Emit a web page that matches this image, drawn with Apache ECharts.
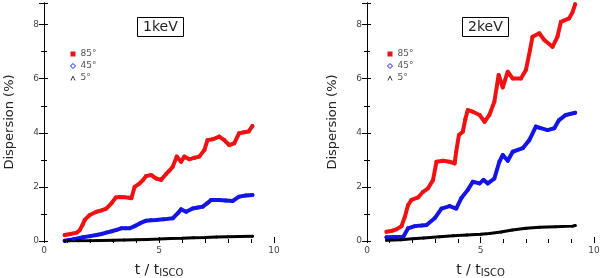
<!DOCTYPE html>
<html><head><meta charset="utf-8">
<script src="https://cdn.jsdelivr.net/npm/echarts@6/dist/echarts.min.js"></script>
<style>html,body{margin:0;padding:0;background:#fff}#c{width:600px;height:278px}</style>
</head><body><div id="c"></div>
<script>
// ---- data (t / t_ISCO, dispersion %) ----
const panelTitles = ['1keV', '2keV'];
const seriesNames = ['85°', '45°', '5°'];
const xTicks = [0, 5, 10];
const yTicks = [0, 2, 4, 6, 8];

const red1 = [[0.9,0.22],[1.15,0.26],[1.43,0.31],[1.56,0.41],[1.68,0.6],[1.77,0.78],[1.99,0.96],[2.28,1.08],[2.5,1.13],[2.71,1.2],[2.93,1.39],[3.12,1.61],[3.3,1.63],[3.5,1.62],[3.7,1.6],[3.8,1.58],[3.94,2.0],[4.16,2.13],[4.3,2.25],[4.44,2.4],[4.66,2.44],[4.88,2.31],[5.09,2.26],[5.31,2.48],[5.45,2.6],[5.6,2.75],[5.77,3.12],[5.96,2.93],[6.1,3.12],[6.32,3.02],[6.55,3.08],[6.75,3.12],[6.97,3.36],[7.11,3.73],[7.33,3.76],[7.62,3.86],[7.84,3.73],[8.05,3.55],[8.27,3.61],[8.48,3.98],[8.7,4.02],[8.9,4.05],[9.06,4.25]];
const blue1 = [[0.9,0.01],[1.3,0.07],[1.7,0.14],[2.0,0.18],[2.28,0.22],[2.5,0.26],[2.71,0.31],[2.95,0.36],[3.15,0.41],[3.36,0.47],[3.55,0.47],[3.73,0.47],[3.94,0.55],[4.16,0.65],[4.44,0.75],[4.65,0.77],[4.88,0.78],[5.2,0.8],[5.6,0.84],[5.81,1.02],[5.96,1.17],[6.18,1.08],[6.46,1.2],[6.7,1.24],[6.9,1.27],[7.1,1.4],[7.26,1.52],[7.62,1.52],[7.9,1.5],[8.2,1.48],[8.48,1.64],[8.77,1.68],[9.06,1.70]];
const black1 = [[0.9,0.0],[1.5,0.01],[2.0,0.01],[2.5,0.02],[3.0,0.03],[3.5,0.04],[4.0,0.05],[4.5,0.06],[5.0,0.07],[5.5,0.09],[6.0,0.1],[6.5,0.12],[7.0,0.13],[7.5,0.15],[8.0,0.16],[8.5,0.17],[9.06,0.18]];

const red2 = [[0.86,0.34],[1.1,0.38],[1.3,0.43],[1.52,0.55],[1.67,0.9],[1.81,1.33],[1.96,1.52],[2.25,1.61],[2.47,1.82],[2.69,1.95],[2.91,2.26],[3.06,2.93],[3.35,2.97],[3.64,2.93],[3.86,2.87],[3.93,3.3],[4.05,3.92],[4.22,4.04],[4.33,4.5],[4.44,4.84],[4.66,4.78],[4.96,4.66],[5.18,4.41],[5.39,4.66],[5.61,5.15],[5.8,6.14],[5.98,5.68],[6.2,6.26],[6.42,6.01],[6.78,6.01],[7.0,6.32],[7.18,7.06],[7.29,7.55],[7.59,7.68],[7.81,7.43],[8.17,7.18],[8.39,7.55],[8.54,8.1],[8.9,8.23],[9.05,8.45],[9.17,8.75]];
const blue2 = [[0.86,0.14],[1.2,0.15],[1.6,0.16],[1.81,0.47],[2.1,0.55],[2.4,0.57],[2.62,0.59],[2.98,0.84],[3.28,1.2],[3.64,1.29],[3.93,1.2],[4.15,1.58],[4.44,1.89],[4.66,2.19],[4.96,2.13],[5.13,2.26],[5.32,2.13],[5.61,2.31],[5.83,2.93],[5.98,3.18],[6.2,2.97],[6.42,3.3],[6.86,3.43],[7.15,3.73],[7.44,4.23],[7.59,4.19],[7.95,4.1],[8.25,4.17],[8.46,4.47],[8.76,4.66],[9.17,4.74]];
const black2 = [[0.86,0.03],[1.5,0.05],[2.0,0.08],[2.5,0.11],[3.2,0.16],[3.8,0.19],[4.4,0.22],[5.0,0.25],[5.4,0.28],[5.9,0.33],[6.4,0.41],[7.0,0.47],[7.6,0.51],[8.3,0.53],[9.05,0.55],[9.17,0.57]];

const RED = '#f01212', BLUE = '#1414e6', BLACK = '#000';
const grids = [
  {left:44, width:230, top:3, height:238, outerBoundsMode:'none', containLabel:false},
  {left:367, width:227, top:3, height:238, outerBoundsMode:'none', containLabel:false}
];

function mkSeries(name, data, color, gi, lw){
  return {type:'line', name, data, xAxisIndex:gi*2, yAxisIndex:gi*2,
    symbol:'circle', symbolSize:lw, showSymbol:true,
    lineStyle:{color, width:lw, join:'round', cap:'round'}, itemStyle:{color, borderWidth:0},
    emphasis:{disabled:true}, animation:false, z:3};
}
const xAxes=[], yAxes=[];
[0,1].forEach(gi=>{
  xAxes.push({type:'value', gridIndex:gi, min:0, max:10, interval:5, position:'bottom',
    axisLine:{show:false}, splitLine:{show:false},
    axisTick:{show:true, inside:true, length:4, lineStyle:{color:'#000'}},
    minorTick:{show:true, splitNumber:5, length:2, lineStyle:{color:'#000'}},
    axisLabel:{show:true, fontSize:9, color:'#444', margin:5, fontFamily:'DejaVu Sans', formatter:v=>xTicks.includes(v)?String(v):''},
    name:'t / t{s|ISCO}', nameLocation:'middle', nameGap:22,
    nameTextStyle:{fontSize:14, color:'#222', fontFamily:'DejaVu Sans', rich:{s:{fontSize:10, color:'#222', fontFamily:'DejaVu Sans', padding:[5,0,0,0]}}}});
  xAxes.push({type:'value', gridIndex:gi, min:0, max:10, interval:5, position:'top',
    axisLine:{show:false}, splitLine:{show:false}, axisLabel:{show:false},
    axisTick:{show:true, inside:true, length:2, lineStyle:{color:'#000'}},
    minorTick:{show:true, splitNumber:5, length:2, lineStyle:{color:'#000'}}});
  yAxes.push({type:'value', gridIndex:gi, min:0, max:8.8, interval:2, position:'left',
    axisLine:{show:true, lineStyle:{color:'#000', width:1}}, splitLine:{show:false},
    axisTick:{show:true, inside:true, length:4, lineStyle:{color:'#000'}},
    minorTick:{show:true, splitNumber:2, length:3, lineStyle:{color:'#000'}},
    axisLabel:{fontSize:9, color:'#444', margin:5, fontFamily:'DejaVu Sans', showMaxLabel:false, formatter:v=>yTicks.includes(v)?String(v):''},
    name:'Dispersion (%)', nameLocation:'middle', nameGap:28,
    nameTextStyle:{fontSize:13, color:'#222', fontFamily:'DejaVu Sans'}});
  yAxes.push({type:'value', gridIndex:gi, min:0, max:8.8, interval:2, position:'right',
    axisLine:{show:true, lineStyle:{color:'#000', width:1}}, splitLine:{show:false},
    axisTick:{show:true, inside:true, length:5, lineStyle:{color:'#000'}},
    minorTick:{show:true, splitNumber:2, length:3, lineStyle:{color:'#000'}},
    axisLabel:{show:false}});
});

const series = [
  mkSeries(seriesNames[0], red1, RED, 0, 4),
  mkSeries(seriesNames[1], blue1, BLUE, 0, 4),
  mkSeries(seriesNames[2], black1, BLACK, 0, 3),
  mkSeries(seriesNames[0], red2, RED, 1, 4),
  mkSeries(seriesNames[1], blue2, BLUE, 1, 4),
  mkSeries(seriesNames[2], black2, BLACK, 1, 3)
];

function mkLegend(left){
  return {left, top:49, orient:'vertical', itemWidth:5, itemHeight:5, itemGap:2, padding:0,
    selectedMode:false,
    textStyle:{fontSize:9, color:'#555', fontFamily:'DejaVu Sans', lineHeight:10},
    data:[
      {name:seriesNames[0], icon:'rect', itemStyle:{color:RED, borderWidth:0}},
      {name:seriesNames[1], icon:'diamond', itemStyle:{color:'#fff', borderColor:BLUE, borderWidth:1}},
      {name:seriesNames[2], icon:'path://M0,10L5,0L10,10L8.5,10L5,3L1.5,10Z', itemStyle:{color:BLACK, borderWidth:0}}
    ]};
}

const option = {
  backgroundColor:'#fff', animation:false,
  title: panelTitles.map((t,i)=>({text:t, left: i===0?137:462, top:17, padding:[2,6,2,6],
    borderWidth:1, borderColor:'#000',
    textStyle:{fontSize:14, fontWeight:'normal', color:'#222', fontFamily:'DejaVu Sans', lineHeight:16}})),
  legend:[mkLegend(70), mkLegend(387)],
  grid: grids,
  xAxis: xAxes, yAxis: yAxes, series
};
const chart = echarts.init(document.getElementById('c'), null, {renderer:'canvas'});
chart.setOption(option);
</script></body></html>
